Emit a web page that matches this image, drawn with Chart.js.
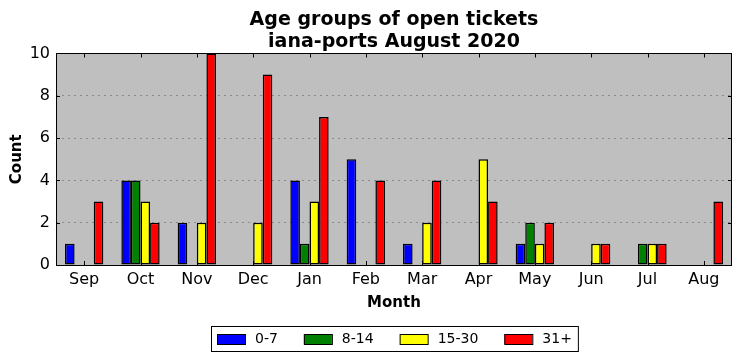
<!DOCTYPE html>
<html>
<head>
<meta charset="utf-8">
<title>Age groups of open tickets</title>
<script src="https://cdn.jsdelivr.net/npm/chart.js@4.4.0/dist/chart.umd.min.js"></script>
<style>
  body { margin: 0; background: #fff; }
  #wrap { width: 741px; height: 361px; }
</style>
</head>
<body>
<div id="wrap"><canvas id="myChart" width="741" height="361"></canvas></div>
<script>
var months = ["Sep", "Oct", "Nov", "Dec", "Jan", "Feb", "Mar", "Apr", "May", "Jun", "Jul", "Aug"]
var age0to7   = [1, 4, 2, 0, 4, 5, 1, 0, 1, 0, 0, 0]
var age8to14  = [0, 4, 0, 0, 1, 0, 0, 0, 2, 0, 1, 0]
var age15to30 = [0, 3, 2, 2, 3, 0, 2, 5, 1, 1, 1, 0]
var age31plus = [3, 2, 10, 9, 7, 4, 4, 3, 2, 1, 1, 3]
var yTicks = [0, 2, 4, 6, 8, 10]

init()
function init(){
    var font = "'DejaVu Sans', sans-serif"

    // grey plot face + frame + inward ticks like matplotlib classic
    var frame = {
        id: "frame",
        beforeDraw: function(chart){
            var a = chart.chartArea, ctx = chart.ctx
            ctx.save()
            ctx.fillStyle = "#bfbfbf"
            ctx.fillRect(a.left, a.top, a.right - a.left, a.bottom - a.top)
            ctx.restore()
        },
        afterDraw: function(chart){
            var a = chart.chartArea, ctx = chart.ctx
            var x = chart.scales.x, y = chart.scales.y
            ctx.save()
            ctx.strokeStyle = "#000"
            ctx.lineWidth = 1
            ctx.strokeRect(Math.round(a.left) + 0.5, Math.round(a.top) + 0.5,
                Math.round(a.right - a.left) - 1, Math.round(a.bottom - a.top))
            ctx.beginPath()
            months.forEach(function(m, i){
                var px = Math.round(x.getPixelForValue(i)) + 0.5
                ctx.moveTo(px, a.bottom); ctx.lineTo(px, a.bottom - 4)
                ctx.moveTo(px, a.top); ctx.lineTo(px, a.top + 4)
            })
            yTicks.forEach(function(v){
                var py = Math.round(y.getPixelForValue(v)) + 0.5
                ctx.moveTo(a.left, py); ctx.lineTo(a.left + 4, py)
                ctx.moveTo(a.right, py); ctx.lineTo(a.right - 4, py)
            })
            ctx.stroke()

            // legend in a box
            ctx.font = "14px " + font
            ctx.textBaseline = "middle"
            var items = chart.data.datasets
            var widths = items.map(function(d){ return ctx.measureText(d.label).width })
            var total = 12
            widths.forEach(function(w, i){ total += 28 + 10 + w + (i < widths.length - 1 ? 26 : 0) })
            var cx = (a.left + a.right) / 2
            var lx = Math.round(cx - total / 2)
            var ly = 326, lh = 25
            ctx.fillStyle = "#fff"
            ctx.fillRect(lx, ly, total, lh)
            ctx.strokeRect(lx + 0.5, ly + 0.5, total, lh)
            var px = lx + 6
            items.forEach(function(d, i){
                ctx.fillStyle = d.backgroundColor
                ctx.fillRect(px, ly + 8, 28, 10)
                ctx.strokeRect(px + 0.5, ly + 8.5, 28, 10)
                ctx.fillStyle = "#000"
                ctx.fillText(d.label, px + 38, ly + 13)
                px += 28 + 10 + widths[i] + 26
            })
            ctx.restore()
        }
    }

    var myChart = document.getElementById("myChart").getContext("2d")

    var chart = new Chart(myChart, {
        type: "bar",
        data: {
            labels: months,
            datasets: [
                { label: "0-7", data: age0to7, backgroundColor: "#0000ff" },
                { label: "8-14", data: age8to14, backgroundColor: "#008000" },
                { label: "15-30", data: age15to30, backgroundColor: "#ffff00" },
                { label: "31+", data: age31plus, backgroundColor: "#ff0000" }
            ]
        },
        options: {
            responsive: false,
            animation: false,
            devicePixelRatio: 1,
            layout: { padding: { left: 0, right: 9, top: 0, bottom: 49 } },
            datasets: {
                bar: {
                    borderColor: "#000",
                    borderWidth: 1.5,
                    borderSkipped: false,
                    barPercentage: 1,
                    categoryPercentage: 0.68
                }
            },
            plugins: {
                legend: { display: false },
                tooltip: { enabled: false },
                title: {
                    display: true,
                    fullSize: false,
                    text: ["Age groups of open tickets", "iana-ports August 2020"],
                    color: "#000",
                    font: { family: font, size: 19, weight: "bold", lineHeight: 1.17 },
                    padding: { top: 9, bottom: 0 }
                }
            },
            scales: {
                x: {
                    grid: { display: false, drawTicks: false },
                    border: { display: false },
                    ticks: { color: "#000", font: { family: font, size: 16 }, padding: 5, maxRotation: 0 },
                    title: {
                        display: true, text: "Month", color: "#000",
                        font: { family: font, size: 15, weight: "bold" },
                        padding: { top: 0, bottom: 0 }
                    },
                    afterFit: function(s){ s.height = 47 }
                },
                y: {
                    min: 0,
                    max: 10,
                    grid: {
                        drawTicks: false,
                        color: function(c){ return (c.tick.value === 0 || c.tick.value === 10) ? "rgba(0,0,0,0)" : "#8a8a8a" }
                    },
                    border: { display: false, dash: [2, 4] },
                    ticks: {
                        stepSize: 2, color: "#000", padding: 6,
                        font: { family: font, size: 16 }
                    },
                    title: {
                        display: true, text: "Count", color: "#000",
                        font: { family: font, size: 15, weight: "bold" },
                        padding: { top: 8, bottom: 0 }
                    },
                    afterFit: function(s){ s.width = 56 }
                }
            }
        },
        plugins: [frame]
    })
}
</script>
</body>
</html>
